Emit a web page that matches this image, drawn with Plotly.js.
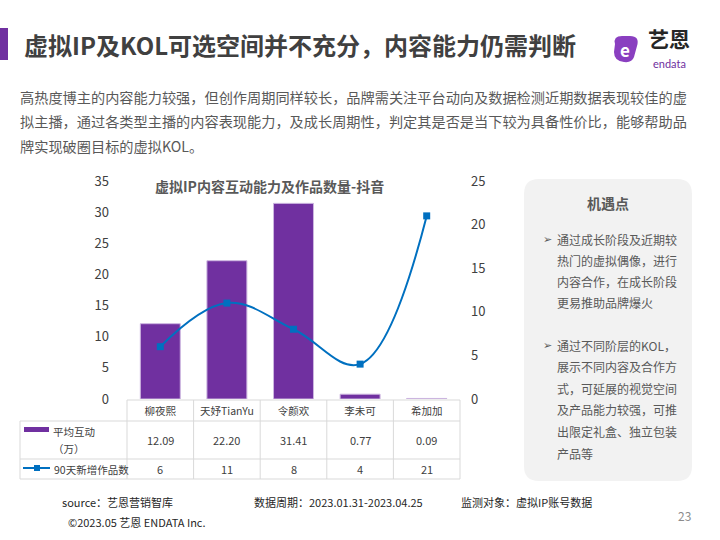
<!DOCTYPE html>
<html>
<head>
<meta charset="utf-8">
<script src="https://cdn.plot.ly/plotly-3.0.1.min.js"></script>
<style>
  body { margin: 0; background: #fff; }
  #chart { width: 720px; height: 540px; }
</style>
</head>
<body>
<div id="chart"></div>
<script>
// data
const categories = ['柳夜熙', '天妤TianYu', '令颜欢', '李未可', '希加加'];
const avgInteraction = [12.09, 22.20, 31.41, 0.77, 0.09];   // 平均互动（万）
const newWorks90d = [6, 11, 8, 4, 21];                       // 90天新增作品数
const leftTicks = [0, 5, 10, 15, 20, 25, 30, 35];
const rightTicks = [0, 5, 10, 15, 20, 25];

const FONT = '"Noto Sans CJK SC", "Noto Sans", sans-serif';
const W = 720, H = 540;
const px = p => p / W;
const py = p => 1 - p / H;

const barTrace = {
    x: categories,
    y: avgInteraction,
    type: 'bar',
    name: '平均互动（万）',
    width: 0.6,
    marker: { color: '#7030A0', line: { color: '#cdb6e0', width: 1 } },
    hoverinfo: 'x+y'
};

const lineTrace = {
    x: categories,
    y: newWorks90d,
    yaxis: 'y2',
    type: 'scatter',
    mode: 'lines+markers',
    name: '90天新增作品数',
    line: { color: '#0070C0', width: 2, shape: 'spline', smoothing: 1.1 },
    marker: { color: '#0070C0', symbol: 'square', size: 7 }
};

// table grid lines
const gridColor = '#d9d9d9';
const shapes = [];
function hline(y, x0, x1) {
    shapes.push({ type: 'line', xref: 'paper', yref: 'paper', x0: px(x0), x1: px(x1), y0: py(y), y1: py(y),
        line: { color: gridColor, width: 1 } });
}
function vline(x, y0, y1) {
    shapes.push({ type: 'line', xref: 'paper', yref: 'paper', x0: px(x), x1: px(x), y0: py(y0), y1: py(y1),
        line: { color: gridColor, width: 1 } });
}
hline(400, 127, 460);
hline(421, 20, 460);
hline(459, 20, 460);
hline(479, 20, 460);
vline(20, 421, 479);
vline(127, 400, 479);
vline(460, 400, 479);
for (let i = 0; i < categories.length - 1; i++) {
    shapes.push({ type: 'line', xref: 'x', yref: 'paper', x0: i + 0.5, x1: i + 0.5, y0: py(400), y1: py(479),
        line: { color: gridColor, width: 1 } });
}

// legend keys inside table
shapes.push({ type: 'rect', xref: 'paper', yref: 'paper', x0: px(24), x1: px(49), y0: py(432), y1: py(427),
    fillcolor: '#7030A0', line: { width: 0 } });
shapes.push({ type: 'line', xref: 'paper', yref: 'paper', x0: px(23), x1: px(50), y0: py(468), y1: py(468),
    line: { color: '#0070C0', width: 2 } });
shapes.push({ type: 'rect', xref: 'paper', yref: 'paper', x0: px(34), x1: px(40), y0: py(471), y1: py(465),
    fillcolor: '#0070C0', line: { width: 0 } });

// page decorations
shapes.push({ type: 'rect', xref: 'paper', yref: 'paper', x0: 0, x1: px(8), y0: py(60), y1: py(28),
    fillcolor: '#7030A0', line: { width: 0 } });
// rounded side panel
function roundRect(x0, y0, x1, y1, r) {
    return `M ${px(x0 + r)} ${py(y0)} L ${px(x1 - r)} ${py(y0)} Q ${px(x1)} ${py(y0)} ${px(x1)} ${py(y0 + r)} ` +
        `L ${px(x1)} ${py(y1 - r)} Q ${px(x1)} ${py(y1)} ${px(x1 - r)} ${py(y1)} ` +
        `L ${px(x0 + r)} ${py(y1)} Q ${px(x0)} ${py(y1)} ${px(x0)} ${py(y1 - r)} ` +
        `L ${px(x0)} ${py(y0 + r)} Q ${px(x0)} ${py(y0)} ${px(x0 + r)} ${py(y0)} Z`;
}
shapes.push({ type: 'path', xref: 'paper', yref: 'paper', path: roundRect(524, 179, 692, 481, 15),
    fillcolor: '#f2f2f2', line: { width: 0 }, layer: 'below' });
// rough logo mark
shapes.push({ type: 'path', xref: 'paper', yref: 'paper', layer: 'above',
    path: `M ${px(615)} ${py(44)} Q ${px(613)} ${py(36)} ${px(622)} ${py(36)} L ${px(630)} ${py(36)} Q ${px(640)} ${py(36)} ${px(637)} ${py(46)} ` +
          `L ${px(634)} ${py(57)} Q ${px(632)} ${py(63)} ${px(624)} ${py(62)} Q ${px(614)} ${py(61)} ${px(614)} ${py(52)} Z`,
    fillcolor: '#8a3fc0', line: { width: 0 } });

const annotations = [];
function text(t, x, y, opts) {
    annotations.push(Object.assign({
        text: t, xref: 'paper', yref: 'paper', x: px(x), y: py(y),
        xanchor: 'left', yanchor: 'middle', showarrow: false,
        font: { family: FONT, size: 12, color: '#404040' }
    }, opts || {}));
}

text('<b>虚拟IP及KOL可选空间并不充分，内容能力仍需判断</b>', 22, 44, { font: { family: FONT, size: 24, color: '#404040' } });
text('<b>e</b>', 625, 49, { xanchor: 'center', font: { family: FONT, size: 17, color: '#ffffff' } });
text('<b>艺恩</b>', 669, 38, { xanchor: 'center', font: { family: FONT, size: 21, color: '#262626' } });
text('endata', 669, 63, { xanchor: 'center', font: { family: 'Lato, sans-serif', size: 11, color: '#7030A0' } });

const para = [
    '高热度博主的内容能力较强，但创作周期同样较长，品牌需关注平台动向及数据检测近期数据表现较佳的虚',
    '拟主播，通过各类型主播的内容表现能力，及成长周期性，判定其是否是当下较为具备性价比，能够帮助品',
    '牌实现破圈目标的虚拟KOL。'
];
para.forEach((l, i) => text(l, 18, 97 + i * 24.5, { font: { family: FONT, size: 14.2, color: '#595959' } }));

text('<b>虚拟IP内容互动能力及作品数量-抖音</b>', 269, 186, { xanchor: 'center', font: { family: FONT, size: 14, color: '#595959' } });

// table: value rows placed on the category axis
const tFont = { family: FONT, size: 11, color: '#404040' };
categories.forEach((c, i) => {
    annotations.push({ text: avgInteraction[i].toFixed(2), xref: 'x', yref: 'paper', x: c, y: py(440),
        showarrow: false, yanchor: 'middle', font: tFont });
    annotations.push({ text: String(newWorks90d[i]), xref: 'x', yref: 'paper', x: c, y: py(469),
        showarrow: false, yanchor: 'middle', font: tFont });
});
const legFont = { family: FONT, size: 10.5, color: '#404040' };
text('平均互动', 51, 431, { font: legFont });
text('（万）', 51, 448, { font: legFont });
text('90天新增作品数', 52, 469, { font: legFont });

// right panel
text('<b>机遇点</b>', 608, 203, { xanchor: 'center', font: { family: FONT, size: 14, color: '#595959' } });
const bullet1 = ['通过成长阶段及近期较', '热门的虚拟偶像，进行', '内容合作，在成长阶段', '更易推助品牌爆火'];
const bullet2 = ['通过不同阶层的KOL，', '展示不同内容及合作方', '式，可延展的视觉空间', '及产品能力较强，可推', '出限定礼盒、独立包装', '产品等'];
const pFont = { family: FONT, size: 12, color: '#595959' };
const bFont = { family: 'DejaVu Sans', size: 11, color: '#595959' };
text('➢', 541, 239, { font: bFont });
bullet1.forEach((l, i) => text(l, 555, 239 + i * 21.3, { font: pFont }));
text('➢', 541, 345, { font: bFont });
bullet2.forEach((l, i) => text(l, 555, 345 + i * 21.6, { font: pFont }));

// footer
const fFont = { family: FONT, size: 11, color: '#262626' };
text('source：艺恩营销智库', 60, 502, { font: fFont });
text('数据周期：2023.01.31-2023.04.25', 252, 502, { font: fFont });
text('监测对象：虚拟IP账号数据', 459, 502, { font: fFont });
text('©2023.05 艺恩 ENDATA Inc.', 66, 522, { font: fFont });
text('23', 693, 515, { xanchor: 'right', font: { family: FONT, size: 12, color: '#8c8c8c' } });

const layout = {
    width: W,
    height: H,
    margin: { l: 0, r: 0, t: 0, b: 0 },
    paper_bgcolor: '#ffffff',
    plot_bgcolor: 'rgba(0,0,0,0)',
    showlegend: false,
    font: { family: FONT, color: '#404040' },
    xaxis: {
        domain: [px(127), px(460)],
        type: 'category',
        showgrid: false,
        zeroline: false,
        showline: false,
        ticks: '',
        ticklabelstandoff: 4,
        tickfont: { family: FONT, size: 10.5, color: '#404040' }
    },
    yaxis: {
        domain: [py(399), py(181)],
        range: [0, 35],
        tickvals: leftTicks,
        showgrid: false,
        zeroline: false,
        showline: false,
        ticks: '',
        ticklabelstandoff: 17,
        tickfont: { family: FONT, size: 13, color: '#404040' }
    },
    yaxis2: {
        overlaying: 'y',
        side: 'right',
        range: [0, 25],
        tickvals: rightTicks,
        showgrid: false,
        zeroline: false,
        showline: false,
        ticks: '',
        ticklabelstandoff: 10,
        tickfont: { family: FONT, size: 13, color: '#404040' }
    },
    shapes: shapes,
    annotations: annotations
};

Plotly.newPlot('chart', [barTrace, lineTrace], layout, { displayModeBar: false, staticPlot: true });
</script>
</body>
</html>
